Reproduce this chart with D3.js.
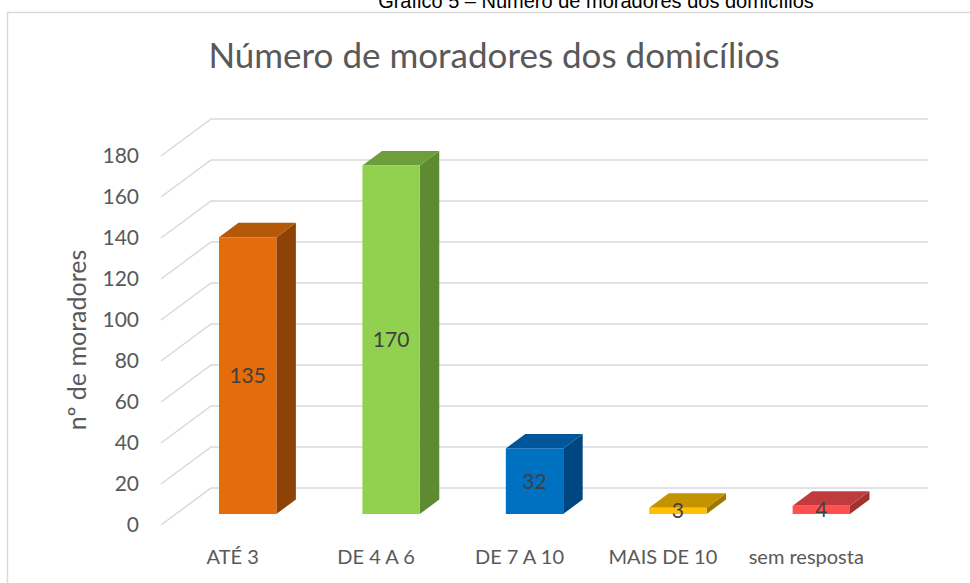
<!DOCTYPE html>
<html><head><meta charset="utf-8">
<script src="https://cdn.jsdelivr.net/npm/d3@7"></script>
<style>html,body{margin:0;padding:0;background:#fff;}svg{display:block;}</style>
</head><body>
<svg id="chart" width="970" height="583"></svg>
<script>
const categories = ["ATÉ 3", "DE 4 A 6", "DE 7 A 10", "MAIS DE 10", "sem resposta"];
const values = [135, 170, 32, 3, 4];
const yTicks = [0, 20, 40, 60, 80, 100, 120, 140, 160, 180];
const frontColors = ["#E46C0A", "#92D050", "#0070C0", "#FFC000", "#FF5050"];
const topColors = ["#B4580A", "#6E9E3C", "#00569A", "#C49300", "#C03C3C"];
const sideColors = ["#8E4205", "#5E8A32", "#004680", "#A07800", "#A03232"];
const chartTitle = "Número de moradores dos domicílios";
const caption = "Gráfico 5 – Número de moradores dos domicílios";
const yTitle = "nº de moradores";

const svg = d3.select("#chart");
const font = "Lato, 'Open Sans', sans-serif";

// frame
svg.append("path").attr("d", "M7.5,583 V12.5 H975")
  .attr("fill", "none").attr("stroke", "#d9d9d9").attr("stroke-width", 1.5);

// caption (cut off at top, as in the source page)
svg.append("text").attr("x", 596).attr("y", 8).attr("text-anchor", "middle")
  .attr("font-family", "'Liberation Sans', Arial, sans-serif").attr("font-size", 20)
  .attr("fill", "#000").text(caption);

// title
svg.append("text").attr("x", 494).attr("y", 68).attr("text-anchor", "middle")
  .attr("font-family", font).attr("font-size", 35).attr("fill", "#595959").text(chartTitle);

// 3D geometry
const depth = {dx: 50, dy: -37};
const y = d3.scaleLinear().domain([0, 180]).range([525, 156]);
const x = d3.scalePoint().domain(categories).range([161, 878]).padding(0.5);
const barW = x.step() * 0.4;
const barOff = {dx: 15, dy: -11};
const barDepth = {dx: 19.5, dy: -14.5};

// gridlines: side wall diagonals + back wall horizontals
const grid = svg.append("g").attr("stroke", "#d9d9d9").attr("stroke-width", 1.5).attr("fill", "none");
yTicks.forEach(t => {
  const fy = y(t);
  grid.append("path").attr("d",
    `M161,${fy} L${161 + depth.dx},${fy + depth.dy} L928,${fy + depth.dy}`);
});

// y tick labels
svg.append("g").selectAll("text").data(yTicks).join("text")
  .attr("x", 139).attr("y", d => y(d)).attr("dy", "0.35em")
  .attr("text-anchor", "end").attr("font-family", font).attr("font-size", 21)
  .attr("fill", "#595959").text(d => d);

// y title
svg.append("text").attr("transform", "translate(86,340) rotate(-90)")
  .attr("text-anchor", "middle").attr("font-family", font).attr("font-size", 25)
  .attr("fill", "#595959").text(yTitle);

// bars
const bars = svg.append("g");
categories.forEach((c, i) => {
  const v = values[i];
  const x0 = x(c) + barOff.dx - barW / 2, x1 = x0 + barW;
  const yb = y(0) + barOff.dy, yt = y(v) + barOff.dy;
  const g = bars.append("g");
  g.append("path").attr("fill", sideColors[i]).attr("d",
    `M${x1},${yb} L${x1 + barDepth.dx},${yb + barDepth.dy} L${x1 + barDepth.dx},${yt + barDepth.dy} L${x1},${yt} Z`);
  g.append("path").attr("fill", topColors[i]).attr("d",
    `M${x0},${yt} L${x0 + barDepth.dx},${yt + barDepth.dy} L${x1 + barDepth.dx},${yt + barDepth.dy} L${x1},${yt} Z`);
  g.append("rect").attr("x", x0).attr("y", yt).attr("width", barW).attr("height", yb - yt)
    .attr("fill", frontColors[i]);
  g.append("text").attr("x", (x0 + x1) / 2).attr("y", (yt + yb) / 2).attr("dy", "0.35em")
    .attr("text-anchor", "middle").attr("font-family", font).attr("font-size", 21)
    .attr("fill", "#404040").text(v);
});

// category labels
svg.append("g").selectAll("text").data(categories).join("text")
  .attr("x", d => x(d)).attr("y", 557).attr("dy", "0.35em")
  .attr("text-anchor", "middle").attr("font-family", font).attr("font-size", 20)
  .attr("fill", "#595959").text(d => d);
</script>
</body></html>
